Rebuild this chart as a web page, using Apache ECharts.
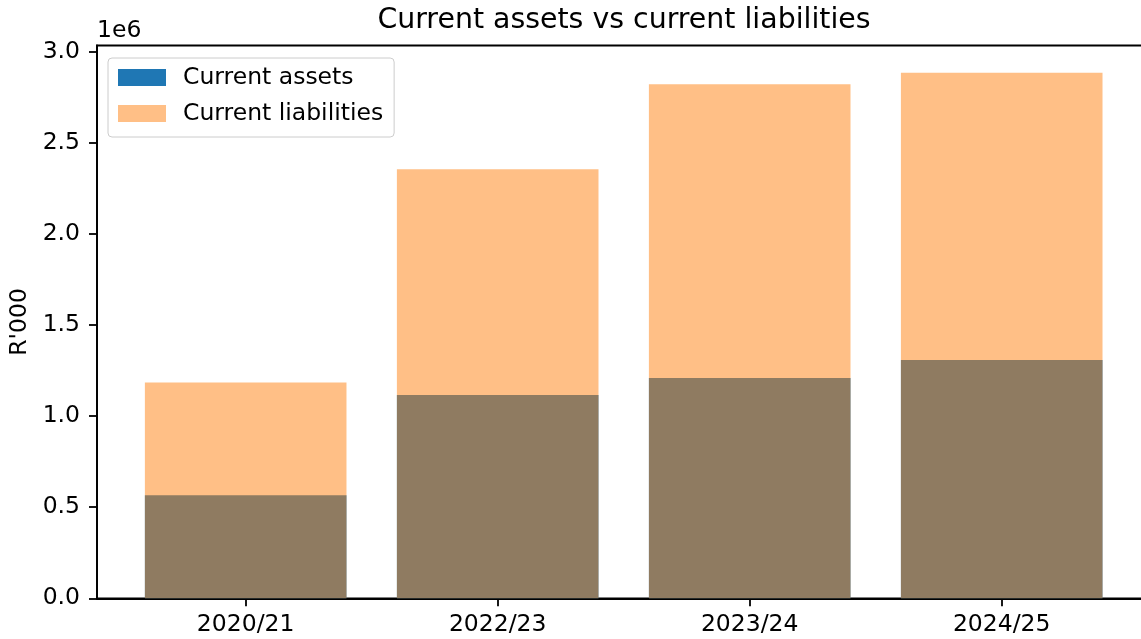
<!DOCTYPE html>
<html>
<head>
<meta charset="utf-8">
<script src="https://cdn.jsdelivr.net/npm/echarts@6/dist/echarts.min.js"></script>
<style>
  html, body { margin: 0; padding: 0; background: #fff; }
  #chart { width: 1141px; height: 639px; }
</style>
</head>
<body>
<div id="chart"></div>
<script>
const years = ["2020/21", "2022/23", "2023/24", "2024/25"];
const currentAssets = [565000, 1116000, 1209000, 1308000];
const currentLiabilities = [1185000, 2355000, 2821000, 2885000];
const yTicks = [0, 500000, 1000000, 1500000, 2000000, 2500000, 3000000];

const font = "DejaVu Sans";
const tickSize = 23.5;

// matplotlib style limits: margin around the data
const xMin = -0.59, xMax = years.length - 1 + 0.59;
const yMax = 3034000;

const chart = echarts.init(document.getElementById("chart"));

chart.setOption({
  animation: false,
  title: {
    text: "Current assets vs current liabilities",
    left: 624,
    top: 7,
    textAlign: "center",
    padding: 0,
    textStyle: { fontFamily: font, fontSize: 28.4, fontWeight: "normal", color: "#000", lineHeight: 28 }
  },
  graphic: [
    {
      type: "text",
      x: 97,
      y: 31,
      style: { text: "1e6", font: tickSize + "px '" + font + "'", fill: "#000", textAlign: "left", textVerticalAlign: "middle" }
    }
  ],
  legend: {
    orient: "vertical",
    left: 108,
    top: 58,
    padding: [7.5, 11, 11.5, 10],
    itemWidth: 48,
    itemHeight: 17,
    itemGap: 12,
    icon: "rect",
    backgroundColor: "rgba(255,255,255,0.8)",
    borderColor: "#cccccc",
    borderWidth: 1,
    borderRadius: 4,
    textStyle: { fontFamily: font, fontSize: tickSize, lineHeight: 24, color: "#000", padding: [0, 0, 0, 12] },
    data: ["Current assets", "Current liabilities"]
  },
  grid: {
    left: 97,
    top: 45.5,
    width: 1053.4,
    height: 552.8,
    show: true,
    borderColor: "#000",
    borderWidth: 1.8,
    containLabel: false,
    outerBoundsMode: "none"
  },
  xAxis: {
    type: "value",
    min: xMin,
    max: xMax,
    splitLine: { show: false },
    axisLine: { show: true, onZero: false, lineStyle: { color: "#000", width: 1.8 } },
    axisTick: { show: true, length: 8, lineStyle: { color: "#000", width: 1.8 }, customValues: [0, 1, 2, 3] },
    axisLabel: {
      margin: 15,
      fontFamily: font,
      fontSize: tickSize,
      lineHeight: tickSize,
      color: "#000",
      customValues: [0, 1, 2, 3],
      formatter: (v) => years[Math.round(v)]
    }
  },
  yAxis: {
    type: "value",
    min: 0,
    max: yMax,
    name: "R'000",
    nameLocation: "middle",
    nameGap: 64,
    nameTextStyle: { fontFamily: font, fontSize: tickSize, lineHeight: tickSize, color: "#000" },
    splitLine: { show: false },
    axisLine: { show: true, onZero: false, lineStyle: { color: "#000", width: 1.8 } },
    axisTick: { show: true, length: 8, lineStyle: { color: "#000", width: 1.8 }, customValues: yTicks },
    axisLabel: {
      margin: 17,
      fontFamily: font,
      fontSize: tickSize,
      color: "#000",
      customValues: yTicks,
      formatter: (v) => (v / 1e6).toFixed(1)
    }
  },
  series: [
    {
      name: "Current assets",
      type: "bar",
      barWidth: 201.6,
      barGap: "-100%",
      itemStyle: { color: "#1f77b4" },
      data: currentAssets.map((v, i) => [i, v])
    },
    {
      name: "Current liabilities",
      type: "bar",
      barWidth: 201.6,
      barGap: "-100%",
      itemStyle: { color: "rgba(255,127,14,0.5)" },
      data: currentLiabilities.map((v, i) => [i, v])
    }
  ]
});
</script>
</body>
</html>
